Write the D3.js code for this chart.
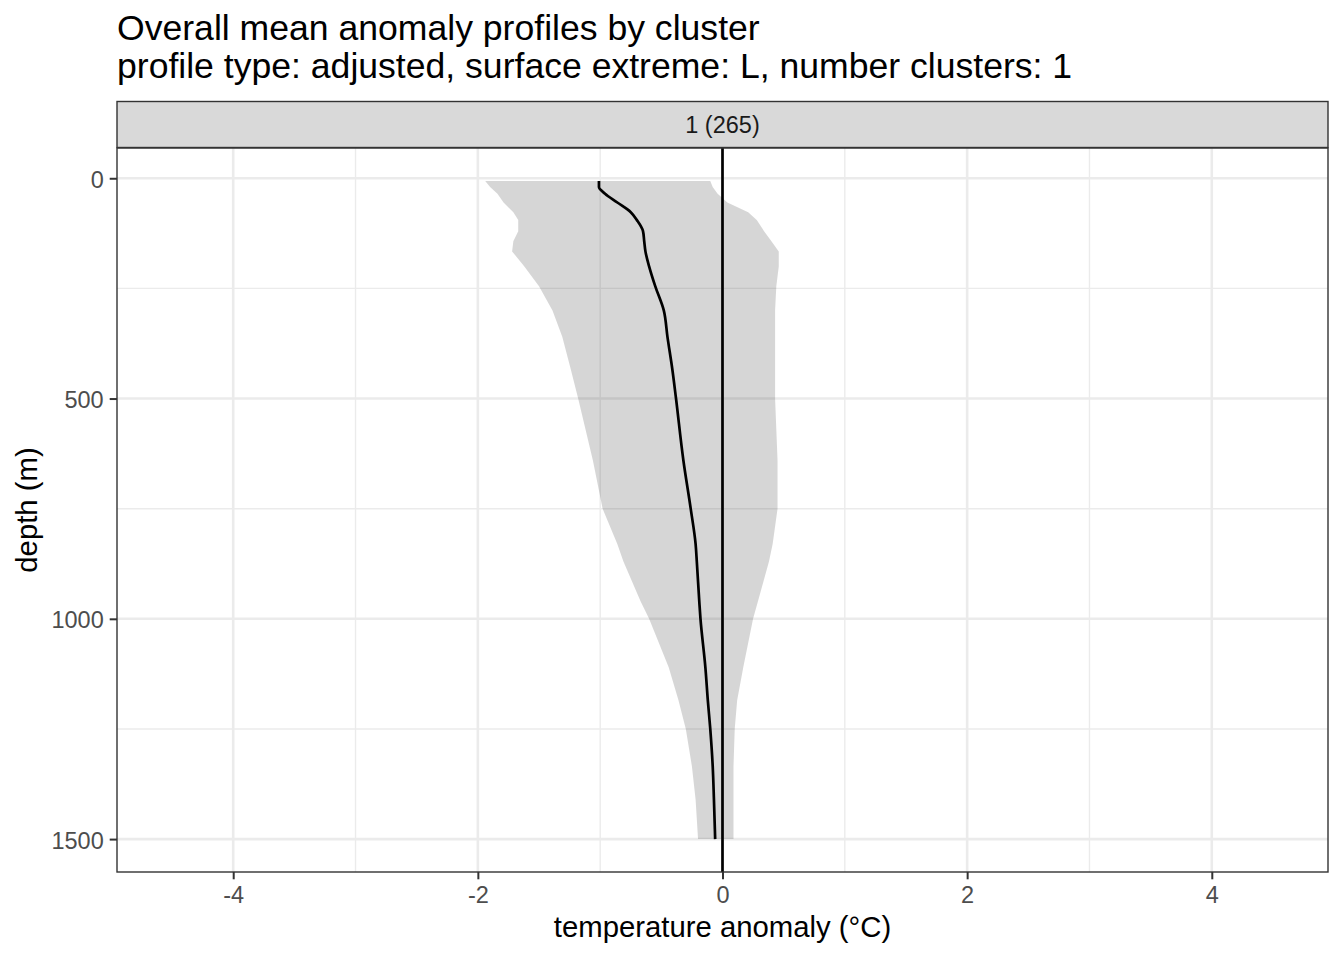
<!DOCTYPE html>
<html>
<head>
<meta charset="utf-8">
<script src="https://cdn.jsdelivr.net/npm/d3@7"></script>
<style>
  html, body { margin: 0; padding: 0; background: #fff; }
  svg { display: block; font-family: "Liberation Sans", Arial, Helvetica, sans-serif; }
</style>
</head>
<body>
<svg id="chart" width="1344" height="960"></svg>
<script>
// ---- data ----
const titleLines = ["Overall mean anomaly profiles by cluster",
                    "profile type: adjusted, surface extreme: L, number clusters: 1"];
const stripLabel = "1 (265)";
const xLabel = "temperature anomaly (\u00B0C)";
const yLabel = "depth (m)";
const xTicks = [-4, -2, 0, 2, 4];
const xMinor = [-3, -1, 1, 3];
const yTicks = [0, 500, 1000, 1500];
const yMinor = [250, 750, 1250];
const xLimits = [-4.5, 4.5];

const depth   = [6, 20, 35, 55, 77, 95, 120, 143, 166, 200, 245, 300, 360, 434, 500, 640, 750, 830, 870, 960, 1000, 1110, 1185, 1250, 1335, 1410, 1500];
const meanAnom= [-1.01, -1.01, -0.96, -0.86, -0.75, -0.70, -0.65, -0.64, -0.63, -0.60, -0.55, -0.48, -0.45, -0.41, -0.38, -0.32, -0.26, -0.22, -0.21, -0.19, -0.18, -0.14, -0.12, -0.10, -0.08, -0.07, -0.06];
const lower   = [-1.94, -1.90, -1.84, -1.79, -1.71, -1.67, -1.67, -1.71, -1.72, -1.62, -1.50, -1.39, -1.31, -1.24, -1.18, -1.06, -0.98, -0.86, -0.81, -0.67, -0.60, -0.44, -0.36, -0.30, -0.25, -0.22, -0.20];
const upper   = [-0.10, -0.08, -0.04, 0.04, 0.21, 0.28, 0.34, 0.40, 0.46, 0.46, 0.44, 0.43, 0.43, 0.43, 0.43, 0.45, 0.45, 0.41, 0.38, 0.29, 0.25, 0.17, 0.12, 0.10, 0.09, 0.09, 0.09];

// ---- layout ----
const panel = { left: 117, right: 1328, top: 148, bottom: 872 };
const strip = { top: 101.5, bottom: 147.5 };
const svg = d3.select("#chart");

const xr = xLimits[1] - xLimits[0];
const x = d3.scaleLinear()
  .domain([xLimits[0] - 0.05 * xr, xLimits[1] + 0.05 * xr])
  .range([panel.left, panel.right]);
const dExt = d3.extent(depth);
const dr = dExt[1] - dExt[0];
const y = d3.scaleLinear()
  .domain([dExt[0] - 0.05 * dr, dExt[1] + 0.05 * dr])
  .range([panel.top, panel.bottom]);

const rows = depth.map((d, i) => ({ d, m: meanAnom[i], lo: lower[i], hi: upper[i] }));

// panel background
svg.append("rect").attr("x", panel.left).attr("y", panel.top)
  .attr("width", panel.right - panel.left).attr("height", panel.bottom - panel.top)
  .attr("fill", "#fff");

const grid = svg.append("g");
// minor grid
grid.selectAll(".xm").data(xMinor).join("line")
  .attr("x1", d => x(d)).attr("x2", d => x(d))
  .attr("y1", panel.top).attr("y2", panel.bottom)
  .attr("stroke", "#ebebeb").attr("stroke-width", 1.4);
grid.selectAll(".ym").data(yMinor).join("line")
  .attr("y1", d => y(d)).attr("y2", d => y(d))
  .attr("x1", panel.left).attr("x2", panel.right)
  .attr("stroke", "#ebebeb").attr("stroke-width", 1.4);
// major grid
grid.selectAll(".xM").data(xTicks).join("line")
  .attr("x1", d => x(d)).attr("x2", d => x(d))
  .attr("y1", panel.top).attr("y2", panel.bottom)
  .attr("stroke", "#ebebeb").attr("stroke-width", 2.6);
grid.selectAll(".yM").data(yTicks).join("line")
  .attr("y1", d => y(d)).attr("y2", d => y(d))
  .attr("x1", panel.left).attr("x2", panel.right)
  .attr("stroke", "#ebebeb").attr("stroke-width", 2.6);

// ribbon
const area = d3.area()
  .y(r => y(r.d))
  .x0(r => x(r.lo))
  .x1(r => x(r.hi))
  .curve(d3.curveLinear);
svg.append("path").datum(rows)
  .attr("d", area)
  .attr("fill", "#000").attr("fill-opacity", 0.16);

// mean line
const line = d3.line().x(r => x(r.m)).y(r => y(r.d)).curve(d3.curveMonotoneY);
svg.append("path").datum(rows)
  .attr("d", line)
  .attr("fill", "none").attr("stroke", "#000").attr("stroke-width", 2.7)
  .attr("stroke-linejoin", "round");

// zero line
svg.append("line")
  .attr("x1", x(0)).attr("x2", x(0))
  .attr("y1", panel.top).attr("y2", panel.bottom)
  .attr("stroke", "#000").attr("stroke-width", 2.7);

// panel border
svg.append("rect").attr("x", panel.left).attr("y", panel.top)
  .attr("width", panel.right - panel.left).attr("height", panel.bottom - panel.top)
  .attr("fill", "none").attr("stroke", "#333").attr("stroke-width", 1.4);

// strip
svg.append("rect").attr("x", panel.left).attr("y", strip.top)
  .attr("width", panel.right - panel.left).attr("height", strip.bottom - strip.top)
  .attr("fill", "#d9d9d9").attr("stroke", "#333").attr("stroke-width", 1.4);
svg.append("text").attr("x", (panel.left + panel.right) / 2).attr("y", 133)
  .attr("text-anchor", "middle").attr("font-size", 23.5).attr("fill", "#1a1a1a")
  .text(stripLabel);

// axes
const xAxis = d3.axisBottom(x).tickValues(xTicks).tickSize(7.3).tickPadding(7).tickFormat(d3.format("d"));
const gx = svg.append("g").attr("transform", `translate(0,${panel.bottom})`).call(xAxis);
gx.select(".domain").remove();
gx.selectAll(".tick line").attr("stroke", "#333").attr("stroke-width", 2);
gx.selectAll(".tick text").attr("fill", "#4d4d4d").attr("font-size", 23.5)
  .attr("font-family", "Liberation Sans, Arial, sans-serif")
  .text(d => d < 0 ? "-" + Math.abs(d) : String(d));

const yAxis = d3.axisLeft(y).tickValues(yTicks).tickSize(7.3).tickPadding(6).tickFormat(d3.format("d"));
const gy = svg.append("g").attr("transform", `translate(${panel.left},0)`).call(yAxis);
gy.select(".domain").remove();
gy.selectAll(".tick line").attr("stroke", "#333").attr("stroke-width", 2);
gy.selectAll(".tick text").attr("fill", "#4d4d4d").attr("font-size", 23.5)
  .attr("font-family", "Liberation Sans, Arial, sans-serif")
  .attr("dy", "0.38em");

// axis titles
svg.append("text").attr("x", x(0)).attr("y", 937)
  .attr("text-anchor", "middle").attr("font-size", 29.3).attr("fill", "#000")
  .text(xLabel);
svg.append("text")
  .attr("transform", `translate(37,${(panel.top + panel.bottom) / 2}) rotate(-90)`)
  .attr("text-anchor", "middle").attr("font-size", 29.3).attr("fill", "#000")
  .text(yLabel);

// title
svg.selectAll(".title").data(titleLines).join("text")
  .attr("x", panel.left).attr("y", (d, i) => 40 + i * 38)
  .attr("font-size", 35.6).attr("fill", "#000")
  .text(d => d);
</script>
</body>
</html>
